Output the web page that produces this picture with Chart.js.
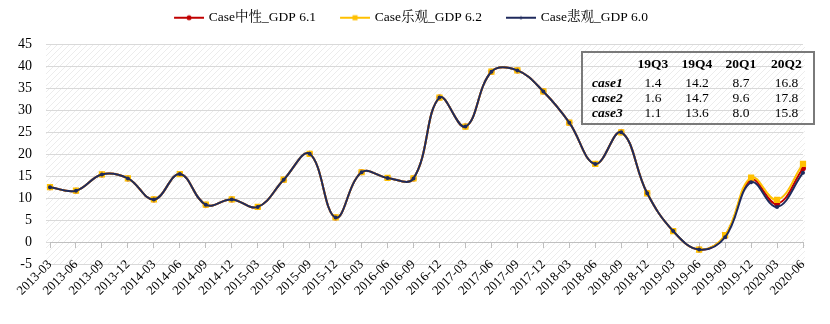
<!DOCTYPE html>
<html>
<head>
<meta charset="utf-8">
<script src="https://cdn.jsdelivr.net/npm/chart.js@4.4.0/dist/chart.umd.min.js"></script>
<style>
  html, body { margin: 0; padding: 0; background: #fff; }
  #wrap { position: relative; width: 830px; height: 324px; }
  #summary {
    position: absolute; left: 581px; top: 51px; width: 231px;
    border: 2px solid #7a7a7a; border-collapse: collapse; table-layout: fixed;
    font-family: "Liberation Serif", "Times New Roman", serif; font-size: 13.5px; color: #000;
  }
  #summary td, #summary th { padding: 0; text-align: center; height: 15px; line-height: 15px; }
  #summary th { font-weight: bold; height: 20px; line-height: 22px; }
  #summary .row { font-weight: bold; font-style: italic; text-align: left; padding-left: 9px; width: 39px; }
  #summary .c { width: 44px; }
  #summary .last { width: 47px; padding-right: 3px; }
</style>
</head>
<body>
<div id="wrap">
  <canvas id="gdpChart" width="830" height="324"></canvas>
  <table id="summary"></table>
</div>
<script>
// Quarter labels
const quarters = [
  "2013-03", "2013-06", "2013-09", "2013-12",
  "2014-03", "2014-06", "2014-09", "2014-12",
  "2015-03", "2015-06", "2015-09", "2015-12",
  "2016-03", "2016-06", "2016-09", "2016-12",
  "2017-03", "2017-06", "2017-09", "2017-12",
  "2018-03", "2018-06", "2018-09", "2018-12",
  "2019-03", "2019-06", "2019-09", "2019-12",
  "2020-03", "2020-06",
];

// Case 中性 (GDP 6.1)
const caseNeutral = [
  12.5, 11.7, 15.4, 14.5, 9.7, 15.5, 8.5, 9.7, 8.0, 14.2, 20.1, 5.6, 15.9,
  14.6, 14.5, 32.9, 26.3, 38.8, 39.1, 34.3, 27.2, 17.8, 25.0, 11.1, 2.5, -1.7,
  1.4, 14.2, 8.7, 16.8,
];
// Case 乐观 (GDP 6.2)
const caseOptimistic = [
  12.5, 11.7, 15.4, 14.5, 9.7, 15.5, 8.5, 9.7, 8.0, 14.2, 20.1, 5.6, 15.9,
  14.6, 14.5, 32.9, 26.3, 38.8, 39.1, 34.3, 27.2, 17.8, 25.0, 11.1, 2.5, -1.7,
  1.6, 14.7, 9.6, 17.8,
];
// Case 悲观 (GDP 6.0)
const casePessimistic = [
  12.5, 11.7, 15.4, 14.5, 9.7, 15.5, 8.5, 9.7, 8.0, 14.2, 20.1, 5.6, 15.9,
  14.6, 14.5, 32.9, 26.3, 38.8, 39.1, 34.3, 27.2, 17.8, 25.0, 11.1, 2.5, -1.7,
  1.1, 13.6, 8.0, 15.8,
];

const tableQuarters = ["19Q3", "19Q4", "20Q1", "20Q2"];
const tableCases = ["case1", "case2", "case3"];

const serif = "'Liberation Serif', 'Noto Serif CJK SC', 'Noto Sans CJK SC', serif";

// legend icon: line with a marker, sits in the right part of the legend box
function legendIcon(color, marker) {
  const c = document.createElement("canvas");
  c.width = 47;
  c.height = 8;
  const g = c.getContext("2d");
  g.strokeStyle = color;
  g.fillStyle = color;
  g.lineWidth = 2;
  g.beginPath();
  g.moveTo(17, 4);
  g.lineTo(47, 4);
  g.stroke();
  if (marker === "square") {
    g.fillRect(29.5, 1.5, 5, 5);
  } else {
    g.beginPath();
    g.arc(32, 4, marker === "small" ? 1.5 : 2.5, 0, Math.PI * 2);
    g.fill();
  }
  return c;
}

// diagonal hatch behind plot area
const hatchBackground = {
  id: "hatchBackground",
  beforeDraw(chart) {
    const { ctx, chartArea } = chart;
    const tile = document.createElement("canvas");
    tile.width = 6;
    tile.height = 6;
    const t = tile.getContext("2d");
    t.strokeStyle = "#ececec";
    t.lineWidth = 1;
    t.beginPath();
    t.moveTo(-1, 7); t.lineTo(7, -1);
    t.moveTo(-1, 1); t.lineTo(1, -1);
    t.moveTo(5, 7); t.lineTo(7, 5);
    t.stroke();
    ctx.save();
    ctx.fillStyle = ctx.createPattern(tile, "repeat");
    ctx.fillRect(chartArea.left - 4, chartArea.top, chartArea.width + 6, chartArea.height);
    ctx.restore();
  },
};

// extra room between legend and plot
const legendSpacing = {
  id: "legendSpacing",
  beforeInit(chart) {
    if (!chart.legend) return;
    const fitLegend = chart.legend.fit;
    chart.legend.fit = function () {
      fitLegend.call(this);
      this.height += 10;
    };
  },
};

document.addEventListener("DOMContentLoaded", function () {
  const ctx = document.getElementById("gdpChart").getContext("2d");
  const gdpChart = new Chart(ctx, {
    type: "line",
    data: {
      labels: quarters,
      datasets: [
        {
          label: "Case中性_GDP 6.1",
          data: caseNeutral,
          borderColor: "#c00000",
          backgroundColor: "#c00000",
          borderWidth: 2,
          pointRadius: 2,
          tension: 0.4,
          order: 3,
        },
        {
          label: "Case乐观_GDP 6.2",
          data: caseOptimistic,
          borderColor: "#ffc000",
          backgroundColor: "#ffc000",
          borderWidth: 2,
          pointStyle: "rect",
          pointRadius: 3,
          tension: 0.4,
          order: 2,
        },
        {
          label: "Case悲观_GDP 6.0",
          data: casePessimistic,
          borderColor: "#1f2a5c",
          backgroundColor: "#1f2a5c",
          borderWidth: 2,
          pointRadius: 1,
          tension: 0.4,
          order: 1,
        },
      ],
    },
    options: {
      responsive: false,
      animation: false,
      layout: {
        padding: { left: 4, right: 27, top: 2, bottom: 60 },
      },
      elements: {
        point: { borderWidth: 0 },
      },
      plugins: {
        legend: {
          position: "top",
          labels: {
            usePointStyle: true,
            pointStyleWidth: 43,
            padding: 9,
            color: "#000",
            font: { family: serif, size: 13.5 },
            generateLabels: function (chart) {
              const icons = [
                legendIcon("#c00000", "circle"),
                legendIcon("#ffc000", "square"),
                legendIcon("#1f2a5c", "small"),
              ];
              return chart.data.datasets.map((ds, i) => ({
                text: ds.label,
                pointStyle: icons[i],
                datasetIndex: i,
                fontColor: "#000",
                lineWidth: 0,
              }));
            },
          },
        },
        tooltip: { enabled: false },
      },
      scales: {
        x: {
          position: { y: 0 },
          offset: false,
          border: { color: "#bfbfbf", width: 1 },
          grid: {
            display: true,
            drawOnChartArea: false,
            drawTicks: true,
            tickLength: 5,
            color: "#bfbfbf",
          },
          ticks: {
            autoSkip: false,
            maxRotation: 45,
            minRotation: 45,
            padding: 10,
            color: "#000",
            font: { family: serif, size: 13 },
          },
        },
        y: {
          min: -5,
          max: 45,
          border: { display: false },
          grid: {
            color: "#d9d9d9",
            drawTicks: true,
            tickLength: 4,
          },
          ticks: {
            stepSize: 5,
            padding: 14,
            color: "#000",
            font: { family: serif, size: 14 },
          },
        },
      },
    },
    plugins: [hatchBackground, legendSpacing],
  });

  // summary table for the last four quarters
  const table = document.getElementById("summary");
  const seriesList = [caseNeutral, caseOptimistic, casePessimistic];
  const colClass = (j) => (j === tableQuarters.length - 1 ? "c last" : "c");
  let html = '<tr><th class="row"></th>' +
    tableQuarters.map((q, j) => '<th class="' + colClass(j) + '">' + q + "</th>").join("") + "</tr>";
  tableCases.forEach((name, i) => {
    const vals = seriesList[i].slice(-tableQuarters.length);
    html += '<tr><td class="row">' + name + "</td>" +
      vals.map((v, j) => '<td class="' + colClass(j) + '">' + v.toFixed(1) + "</td>").join("") + "</tr>";
  });
  table.innerHTML = html + '<tr><td colspan="5" style="height:3px;line-height:3px"></td></tr>';
});
</script>
</body>
</html>
